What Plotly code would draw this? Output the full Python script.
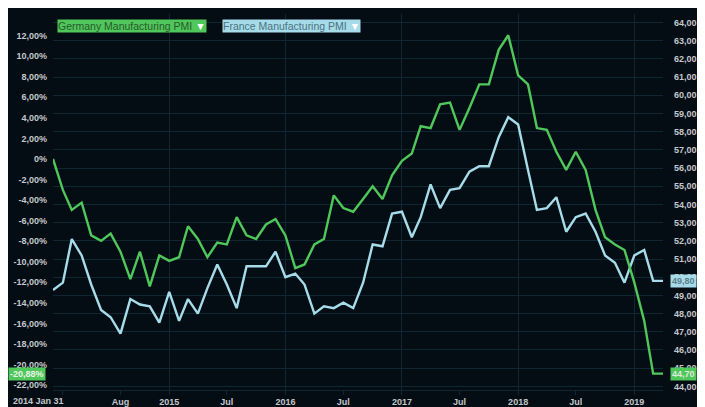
import plotly.graph_objects as go
import pandas as pd

# ---- data (monthly, Jan 2014 .. Mar 2019) ----
germany_pmi = [56.5, 54.8, 53.7, 54.1, 52.3, 52.0, 52.4, 51.4, 49.9, 51.4, 49.5, 51.2,
               50.9, 51.1, 52.8, 52.1, 51.1, 51.9, 51.8, 53.3, 52.3, 52.1, 52.9, 53.2,
               52.3, 50.5, 50.7, 51.8, 52.1, 54.5, 53.8, 53.6, 54.3, 55.0, 54.3, 55.6,
               56.4, 56.8, 58.3, 58.2, 59.5, 59.6, 58.1, 59.3, 60.6, 60.6, 62.5, 63.3,
               61.1, 60.6, 58.2, 58.1, 56.9, 55.9, 56.9, 55.9, 53.7, 52.2, 51.8, 51.5,
               49.7, 47.6, 44.7]
france_pmi = [49.3, 49.7, 52.1, 51.2, 49.6, 48.2, 47.8, 46.9, 48.8, 48.5, 48.4, 47.5,
              49.2, 47.6, 48.8, 48.0, 49.4, 50.7, 49.6, 48.3, 50.6, 50.6, 50.6, 51.4,
              50.0, 50.2, 49.6, 48.0, 48.4, 48.3, 48.6, 48.3, 49.7, 51.8, 51.7, 53.5,
              53.6, 52.2, 53.3, 55.1, 53.8, 54.8, 54.9, 55.8, 56.1, 56.1, 57.7, 58.8,
              58.4, 55.9, 53.7, 53.8, 54.4, 52.5, 53.3, 53.5, 52.5, 51.2, 50.8, 49.7,
              51.2, 51.5, 49.8]
start_date = "2014-01-01"
end_date = "2019-04-01"
series_names = ["Germany Manufacturing PMI", "France Manufacturing PMI"]

x_tick_dates = ["2014-01-31", "2014-08-01", "2015-01-01", "2015-07-01", "2016-01-01",
                "2016-07-01", "2017-01-01", "2017-07-01", "2018-01-01", "2018-07-01",
                "2019-01-01"]
x_tick_labels = ["2014 Jan 31", "Aug", "2015", "Jul", "2016", "Jul", "2017", "Jul",
                 "2018", "Jul", "2019"]
year_dates = ["2015-01-01", "2016-01-01", "2017-01-01", "2018-01-01", "2019-01-01"]
right_ticks = list(range(44, 65))
left_ticks = list(range(-22, 13, 2))

# ---- styling ----
BG = "#050d14"
GRID = "#0f2633"
TXT = "#c3c7cb"
GREEN = "#4fc75a"
BLUE = "#a6dcea"
FONT = "Liberation Sans"

dates = list(pd.date_range(start_date, periods=len(germany_pmi), freq="MS"))
x_ext = dates + [pd.Timestamp(end_date)]
g_ext = germany_pmi + [germany_pmi[-1]]
f_ext = france_pmi + [france_pmi[-1]]
base = germany_pmi[0]
g_pct = [(v / base - 1) * 100 for v in g_ext]

y_lo, y_hi = 43.8, 64.47
W, H = 705, 407
ML, MR, MT, MB = 45, 50, 6, 25
OFF = 8  # page body margin

fig = go.Figure()
fig.add_trace(go.Scatter(x=x_ext, y=g_pct, mode="lines", line=dict(width=0),
                         opacity=0, yaxis="y", xaxis="x", hoverinfo="skip", showlegend=False))
fig.add_trace(go.Scatter(x=x_ext, y=f_ext, mode="lines", name=series_names[1],
                         line=dict(color=BLUE, width=2.4), yaxis="y2", xaxis="x",
                         hoverinfo="skip", showlegend=False))
fig.add_trace(go.Scatter(x=x_ext, y=g_ext, mode="lines", name=series_names[0],
                         line=dict(color=GREEN, width=2.4), yaxis="y2", xaxis="x",
                         hoverinfo="skip", showlegend=False))
fig.add_trace(go.Scatter(x=[start_date, end_date], y=[y_lo, y_lo], mode="lines",
                         line=dict(width=0), opacity=0, xaxis="x2", yaxis="y2",
                         hoverinfo="skip", showlegend=False))


def fmt_pct(v):
    return "0%" if v == 0 else f"{v},00%"


TICKFONT = dict(family=FONT, size=9, color=TXT, weight="bold")

fig.update_layout(
    width=W, height=H,
    margin=dict(l=ML, r=MR, t=MT, b=MB, autoexpand=False),
    paper_bgcolor=BG, plot_bgcolor=BG,
    font=dict(family=FONT, size=9, color=TXT),
    showlegend=False,
    xaxis=dict(type="date", range=[start_date, end_date], tickvals=x_tick_dates,
               ticktext=[""] + x_tick_labels[1:], showgrid=False, zeroline=False,
               showline=True, linecolor=GRID, linewidth=1, automargin=False,
               ticks="outside", ticklen=4, tickcolor=GRID, ticklabelstandoff=-1,
               tickfont=TICKFONT),
    xaxis2=dict(type="date", range=[start_date, end_date], overlaying="x",
                tickvals=year_dates, showticklabels=False, showgrid=True,
                gridcolor=GRID, gridwidth=1, zeroline=False, ticks="", automargin=False),
    yaxis=dict(range=[(y_lo / base - 1) * 100, (y_hi / base - 1) * 100],
               tickvals=left_ticks, ticktext=[fmt_pct(v) for v in left_ticks],
               showgrid=False, zeroline=False, ticks="", ticklabelstandoff=5,
               automargin=False, tickfont=TICKFONT),
    yaxis2=dict(range=[y_lo, y_hi], overlaying="y", side="right",
                tickvals=right_ticks, ticktext=[f"{v},00" for v in right_ticks],
                showgrid=True, gridcolor=GRID, gridwidth=1, zeroline=False,
                ticks="", ticklabelstandoff=10, automargin=False,
                tickfont=TICKFONT),
)

pw = W - ML - MR
ph = H - MT - MB


def px_x(p):
    return (p - OFF - ML) / pw


def px_y(p):
    return (H - MB - (p - OFF)) / ph


# legend-like tags
legend_items = [(series_names[0], GREEN, "#2a5a2d", 57),
                (series_names[1], BLUE, "#4d7380", 222)]
for name, col, tcol, xp in legend_items:
    fig.add_annotation(xref="paper", yref="paper", x=px_x(xp), y=px_y(25.5),
                       xanchor="left", yanchor="middle", showarrow=False,
                       text=f"{name} <span style='color:white'>▼</span>",
                       font=dict(family=FONT, size=10.5, color=tcol),
                       bgcolor=col, borderpad=0)

# first x tick label (kept inside the frame)
fig.add_annotation(xref="x", yref="paper", x=x_tick_dates[0], y=px_y(401),
                   xanchor="right", yanchor="middle", xshift=3, showarrow=False,
                   text=x_tick_labels[0], font=TICKFONT)

# last value tags
g_last_pct = (germany_pmi[-1] / base - 1) * 100
fig.add_annotation(xref="paper", yref="y", x=px_x(8), y=g_last_pct,
                   xanchor="left", yanchor="middle", showarrow=False,
                   text=f"{g_last_pct:.2f}%".replace(".", ","),
                   font=dict(family=FONT, size=9, color="#e8f4e8", weight="bold"),
                   bgcolor=GREEN, borderpad=1)
for val, col, tcol in [(germany_pmi[-1], GREEN, "#dfe9df"), (france_pmi[-1], BLUE, "#5d7f8a")]:
    fig.add_annotation(xref="paper", yref="y2", x=px_x(670), y=val,
                       xanchor="left", yanchor="middle", showarrow=False,
                       text=f"{val:.2f}".replace(".", ","),
                       font=dict(family=FONT, size=9, color=tcol, weight="bold"),
                       bgcolor=col, borderpad=1)

fig.write_html("out.html", config={"displayModeBar": False})
